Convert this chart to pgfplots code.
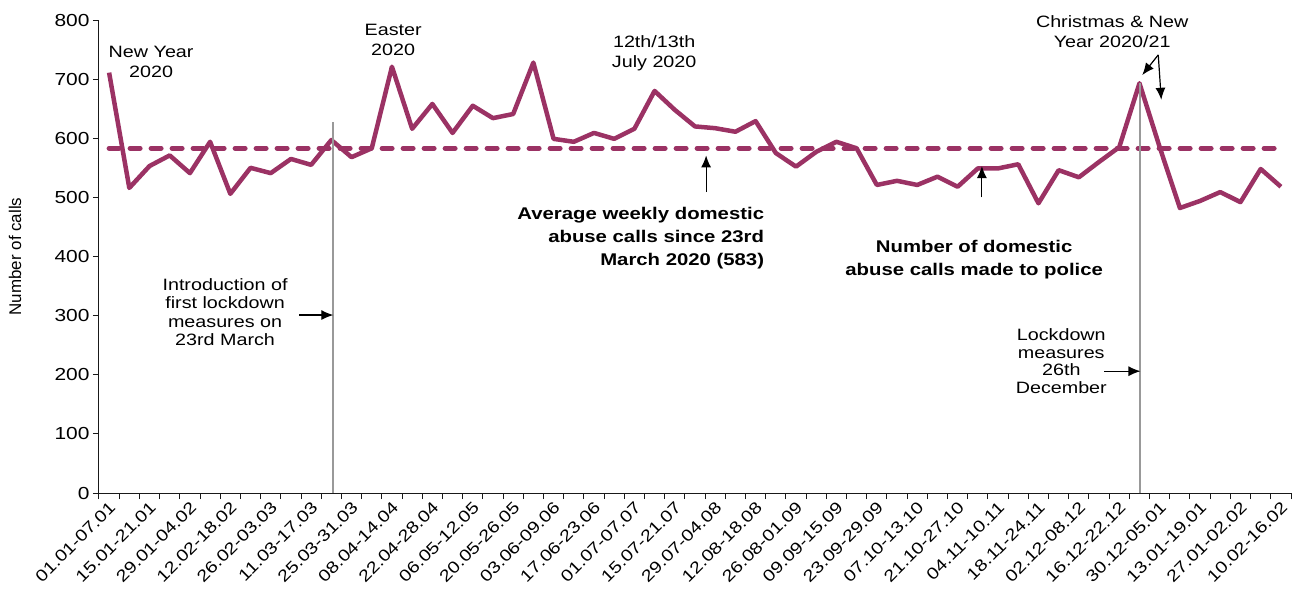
\documentclass[border=0pt]{standalone}
\usepackage{fontspec}
\setmainfont{Liberation Sans}[FakeStretch=1.2]
\newfontfamily\plainsans{Liberation Sans}
\usepackage{pgfplots}
\usepackage{pgfplotstable}
\pgfplotsset{compat=1.18}
\usetikzlibrary{arrows.meta}
\definecolor{callline}{RGB}{155,50,100}

% weekly domestic abuse calls, week index 0 = 01.01-07.01
\pgfplotstableread{
wk calls
0 711
1 516
2 553
3 571
4 541
5 594
6 506
7 550
8 541
9 565
10 555
11 597
12 568
13 583
14 721
15 616
16 658
17 609
18 655
19 634
20 641
21 728
22 599
23 594
24 609
25 599
26 616
27 680
28 648
29 620
30 617
31 611
32 629
33 575
34 552
35 577
36 594
37 583
38 521
39 528
40 521
41 535
42 518
43 549
44 549
45 556
46 490
47 546
48 534
49 560
50 585
51 693
52 585
53 482
54 494
55 509
56 492
57 548
58 518
}\calls

\begin{document}
\begin{tikzpicture}[
  note/.style={font=\fontsize{16.5}{20}\selectfont, align=center, inner sep=0pt},
  arr/.style={-{Latex[length=12bp,width=10bp]}, line width=1.2bp, black}]
\useasboundingbox (-99bp,-99bp) rectangle (1199bp,493bp);
\begin{axis}[
  at={(0,0)}, anchor=south west,
  scale only axis, width=1192bp, height=473bp,
  xmin=-0.5, xmax=58.5, ymin=0, ymax=800,
  axis lines=left,
  axis line style={-, line width=1bp, black!90},
  tick align=outside,
  ytick={0,100,...,800},
  major tick length=6bp, minor tick length=6bp,
  every tick/.style={line width=1bp, black!90},
  xtick={0,2,...,58},
  major x tick style={draw=none},
  minor xtick={-0.5,0.5,...,58.5},
  xticklabels={01.01-07.01, 15.01-21.01, 29.01-04.02, 12.02-18.02, 26.02-03.03,
    11.03-17.03, 25.03-31.03, 08.04-14.04, 22.04-28.04, 06.05-12.05, 20.05-26.05,
    03.06-09.06, 17.06-23.06, 01.07-07.07, 15.07-21.07, 29.07-04.08, 12.08-18.08,
    26.08-01.09, 09.09-15.09, 23.09-29.09, 07.10-13.10, 21.10-27.10, 04.11-10.11,
    18.11-24.11, 02.12-08.12, 16.12-22.12, 30.12-05.01, 13.01-19.01, 27.01-02.02,
    10.02-16.02},
  xticklabel style={rotate=45, anchor=north east, inner sep=0.5bp, xshift=-1bp,
    font=\fontsize{16.5}{16.5}\selectfont},
  yticklabel style={font=\fontsize{17.5}{17.5}\selectfont},
  /pgf/number format/assume math mode=true,
  ylabel={Number of calls},
  every axis y label/.style={at={(axis description cs:-0.0705,0.5)}, rotate=90, anchor=center,
    font=\plainsans\fontsize{17}{17}\selectfont},
  clip=false,
]
\addplot[callline, line width=4.5bp, line join=round, mark=none] table[x=wk, y=calls] {\calls};
\addplot[callline, line width=5bp, dash pattern=on 10bp off 11bp, line cap=round, mark=none]
  coordinates {(0,583) (58,583)};
\addplot[gray!80, line width=2bp, mark=none] coordinates {(11.1,0) (11.1,627)};
\addplot[gray!80, line width=2bp, mark=none] coordinates {(51.05,0) (51.05,693)};

\node[note] at (axis cs:2.08,729) {New Year\\2020};
\node[note] at (axis cs:14.06,766) {Easter\\2020};
\node[note] at (axis cs:26.98,744) {12th/13th\\July 2020};
\node[note] at (axis cs:49.65,780) {Christmas \& New\\Year 2020/21};
\node[note, font=\fontsize{16.5}{18.7}\selectfont] at (axis cs:5.74,306)
  {Introduction of\\first lockdown\\measures on\\23rd March};
\node[note, font=\fontsize{16.5}{17.7}\selectfont] at (axis cs:47.13,223)
  {Lockdown\\measures\\26th\\December};
\node[note, align=right, anchor=north east, font=\bfseries\fontsize{17}{23}\selectfont]
  at (axis cs:32.43,484) {Average weekly domestic\\abuse calls since 23rd\\March 2020 (583)};
\node[note, anchor=north, font=\bfseries\fontsize{17}{23}\selectfont]
  at (axis cs:42.82,428) {Number of domestic\\abuse calls made to police};

\draw[arr] (axis cs:29.55,509) -- (axis cs:29.55,571);
\draw[arr] (axis cs:43.2,500) -- (axis cs:43.2,553);
\draw[arr] (axis cs:51.93,741) -- (axis cs:51.14,707);
\draw[arr] (axis cs:51.93,741) -- (axis cs:52.08,665);
\draw[arr] (axis cs:9.4,301) -- (axis cs:11.1,301);
\draw[arr] (axis cs:49.25,206) -- (axis cs:51.05,206);
\end{axis}
\end{tikzpicture}
\end{document}
